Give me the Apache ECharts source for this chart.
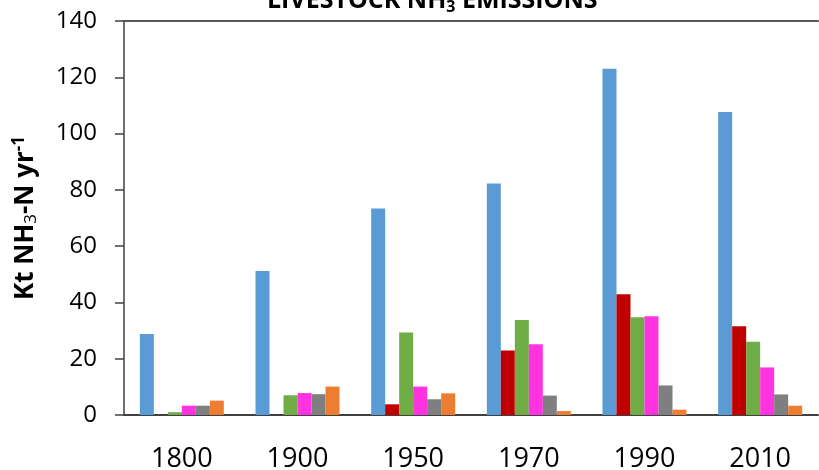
<!DOCTYPE html>
<html>
<head>
<meta charset="utf-8">
<script src="https://cdn.jsdelivr.net/npm/echarts@6/dist/echarts.min.js"></script>
<style>
  html, body { margin: 0; padding: 0; background: #fff; }
  #main { width: 819px; height: 470px; }
</style>
</head>
<body>
<div id="main"></div>
<script>
var years = ['1800', '1900', '1950', '1970', '1990', '2010'];
var yTicks = [0, 20, 40, 60, 80, 100, 120, 140];

// one array per livestock series
var blueVals    = [28.8, 51.2, 73.4, 82.3, 123.0, 107.7];
var redVals     = [0, 0, 3.8, 22.9, 42.9, 31.5];
var greenVals   = [1.0, 7.0, 29.3, 33.8, 34.7, 26.0];
var magentaVals = [3.3, 7.8, 10.1, 25.1, 35.1, 16.9];
var grayVals    = [3.3, 7.4, 5.6, 6.9, 10.5, 7.3];
var orangeVals  = [5.1, 10.1, 7.7, 1.4, 1.9, 3.3];

var seriesData = [blueVals, redVals, greenVals, magentaVals, grayVals, orangeVals];
var colors = ['#5B9BD5', '#C00000', '#70AD47', '#FF33E0', '#7F7F7F', '#ED7D31'];

var myChart = echarts.init(document.getElementById('main'));

var series = seriesData.map(function (d, i) {
	return {
		type: 'bar',
		data: d,
		barWidth: 14,
		barGap: '0%',
		itemStyle: { color: colors[i] },
		silent: true
	};
});

var option = {
	animation: false,
	textStyle: { fontFamily: 'Open Sans' },
	title: {
		text: '{a|LIVESTOCK NH}{s|3}{a| EMISSIONS}',
		left: 262,
		top: -18,
		textStyle: {
			rich: {
				a: { fontFamily: 'Open Sans', fontSize: 25, fontWeight: 'bold', color: '#000' },
				s: { fontFamily: 'Open Sans', fontSize: 16, fontWeight: 'bold', color: '#000', padding: [12, 0, 0, 0] }
			}
		}
	},
	grid: {
		left: 124,
		right: 1,
		top: 21,
		bottom: 55,
		outerBoundsMode: 'none'
	},
	xAxis: [{
		type: 'category',
		data: years,
		axisLine: { lineStyle: { color: '#404040', width: 2 } },
		axisTick: { show: false },
		axisLabel: { color: '#000', fontSize: 27, margin: 31 }
	}, {
		type: 'category',
		position: 'top',
		data: years,
		axisLine: { lineStyle: { color: '#595959', width: 2 } },
		axisTick: { show: false },
		axisLabel: { show: false }
	}],
	yAxis: {
		type: 'value',
		min: yTicks[0],
		max: yTicks[yTicks.length - 1],
		interval: 20,
		splitLine: { show: false },
		axisLine: { show: true, lineStyle: { color: '#404040', width: 1.5 } },
		axisTick: { show: true, length: 9, lineStyle: { color: '#404040', width: 1.5 } },
		axisLabel: { color: '#000', fontSize: 24, margin: 27 },
		name: '{a|Kt NH}{s|3}{a|-N yr}{p|-1}',
		nameLocation: 'middle',
		nameRotate: 90,
		nameGap: 84,
		nameTextStyle: {
			rich: {
				a: { fontFamily: 'Open Sans', fontSize: 26, fontWeight: 'bold', color: '#000' },
				s: { fontFamily: 'Open Sans', fontSize: 17, color: '#000', padding: [12, 0, 0, 0] },
				p: { fontFamily: 'Open Sans', fontSize: 17, fontWeight: 'bold', color: '#000', padding: [0, 0, 12, 0] }
			}
		}
	},
	series: series
};
myChart.setOption(option);
</script>
</body>
</html>
